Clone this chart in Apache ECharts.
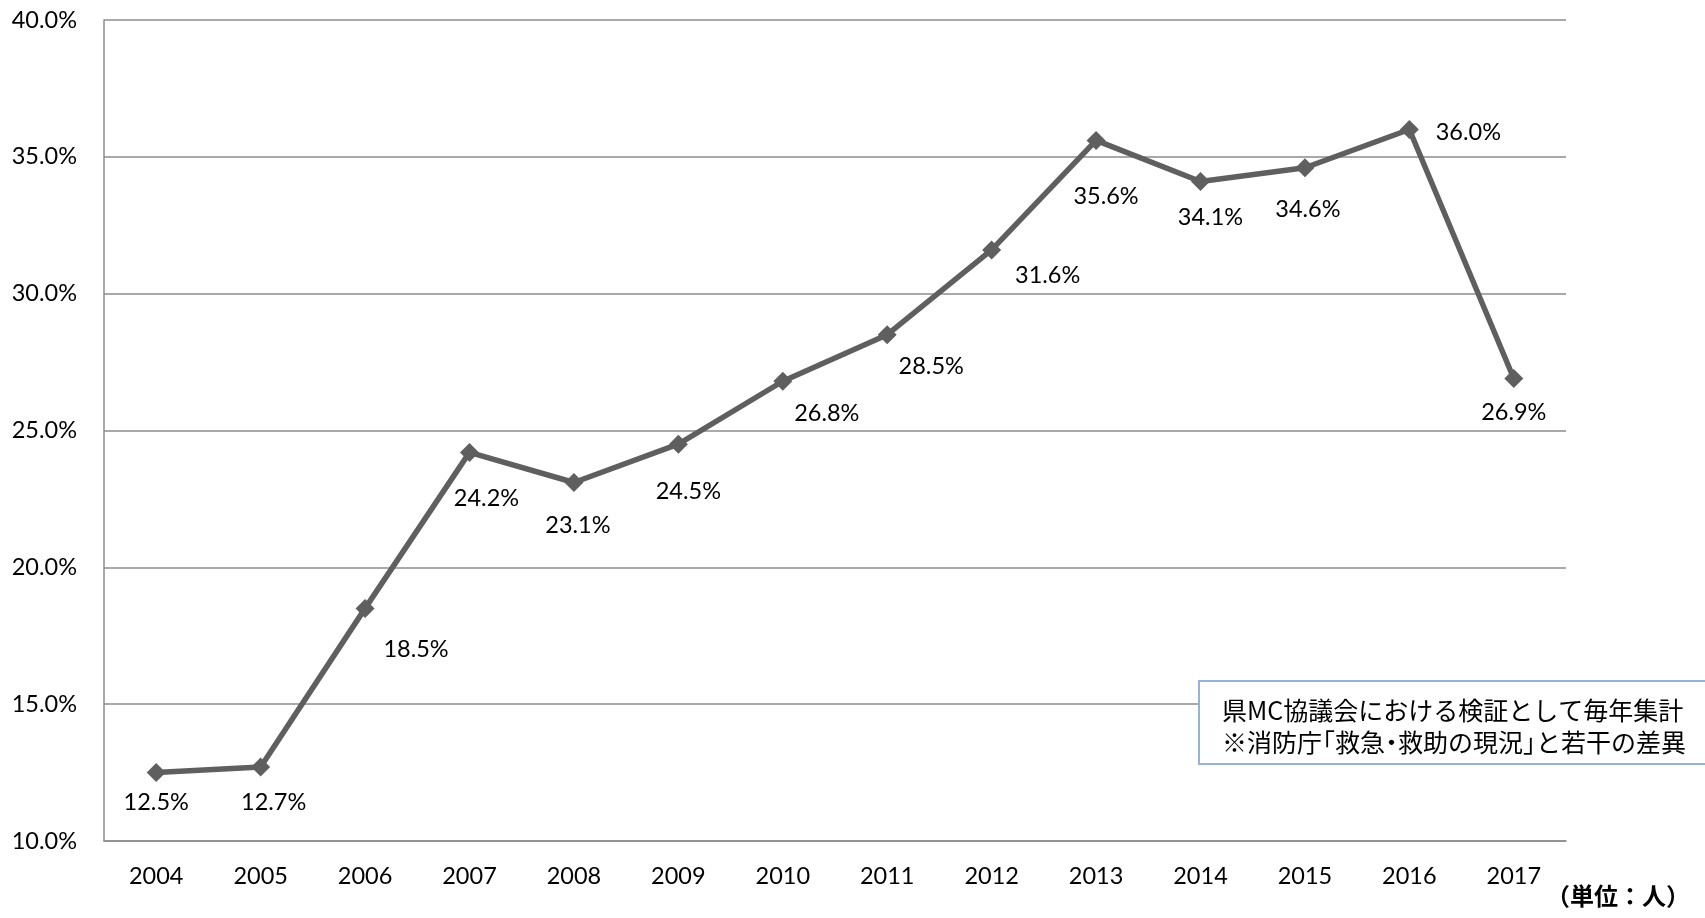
<!DOCTYPE html>
<html>
<head>
<meta charset="utf-8">
<script src="https://cdn.jsdelivr.net/npm/echarts@6/dist/echarts.min.js"></script>
<style>
html,body{margin:0;padding:0;background:#fff;}
#chart{width:1705px;height:918px;}
</style>
</head>
<body>
<div id="chart"></div>
<script>
// ---- data ----
const years = ['2004','2005','2006','2007','2008','2009','2010','2011','2012','2013','2014','2015','2016','2017'];
const rates = [12.5, 12.7, 18.5, 24.2, 23.1, 24.5, 26.8, 28.5, 31.6, 35.6, 34.1, 34.6, 36.0, 26.9];
const yTicks = [10, 15, 20, 25, 30, 35, 40];
const noteLine1 = '県MC協議会における検証として毎年集計';
const noteLine2 = '※消防庁「救急・救助の現況」と若干の差異';
const unitText = '（単位：人）';

// ---- layout (label nudges, px) ----
const labelNudge = [[0,30],[13,35],[51,41],[17,46],[4,43],[10,47],[44,32],[44,32],[56,26],[10,56],[10,36],[3,42],[59,3],[0,34]];

// proportional-looking brackets / middle dot via rich tokens
function richLine(s) {
  let out = '';
  for (const ch of s) {
    if (ch === '「') out += '{ob|「}';
    else if (ch === '」') out += '{cb|」}';
    else if (ch === '・') out += '{dt|・}';
    else out += ch;
  }
  return out;
}

const latin = 'Lato, "Noto Sans", sans-serif';
const noteFont = '"Noto Sans CJK JP", sans-serif';
const noteSize = 25;
const chart = echarts.init(document.getElementById('chart'));
chart.setOption({
  animation: false,
  backgroundColor: '#ffffff',
  grid: {left: 104, right: 139, top: 20, bottom: 77},
  xAxis: {
    type: 'category',
    data: years,
    boundaryGap: true,
    axisLine: {show: true, lineStyle: {color: '#8c8c8c', width: 1.5}},
    axisTick: {show: false},
    axisLabel: {color: '#000', fontFamily: latin, fontSize: 23.5, margin: 23}
  },
  yAxis: {
    type: 'value',
    min: yTicks[0],
    max: yTicks[yTicks.length - 1],
    interval: yTicks[1] - yTicks[0],
    axisLine: {show: true, lineStyle: {color: '#8c8c8c', width: 1.5}},
    axisTick: {show: false},
    splitLine: {show: true, lineStyle: {color: '#8c8c8c', width: 1.5}},
    axisLabel: {color: '#000', fontFamily: latin, fontSize: 23.5, margin: 27,
      formatter: v => v.toFixed(1) + '%'}
  },
  series: [{
    type: 'line',
    data: rates.map((v, i) => ({value: v, label: {offset: labelNudge[i]}})),
    symbol: 'diamond',
    symbolSize: 19,
    lineStyle: {color: '#5f5f5f', width: 5.5},
    itemStyle: {color: '#5f5f5f'},
    label: {
      show: true,
      position: 'inside',
      color: '#000',
      fontFamily: latin,
      fontSize: 23.5,
      formatter: p => p.value.toFixed(1) + '%'
    },
    z: 3
  }],
  graphic: [
    {
      type: 'rect',
      shape: {x: 1199, y: 681, width: 560, height: 83},
      style: {fill: '#ffffff', stroke: '#95b3d7', lineWidth: 2},
      z: 10
    },
    {
      type: 'text',
      x: 1222, y: 694,
      style: {
        text: richLine(noteLine1) + '\n' + richLine(noteLine2),
        fontFamily: noteFont,
        fontSize: noteSize,
        lineHeight: 32,
        fill: '#000',
        rich: {
          ob: {fontFamily: noteFont, fontSize: noteSize, width: 25, align: 'left', padding: [0, 0, 0, -12], fill: '#000'},
          cb: {fontFamily: noteFont, fontSize: noteSize, width: 13, align: 'left', fill: '#000'},
          dt: {fontFamily: noteFont, fontSize: noteSize, width: 19, align: 'left', padding: [0, 0, 0, -6], fill: '#000'}
        }
      },
      z: 11
    },
    {
      type: 'text',
      x: 1690, y: 884,
      style: {
        text: unitText,
        font: 'bold 24px "Noto Sans CJK JP", sans-serif',
        fill: '#000',
        align: 'right'
      },
      z: 11
    }
  ]
});
</script>
</body>
</html>
